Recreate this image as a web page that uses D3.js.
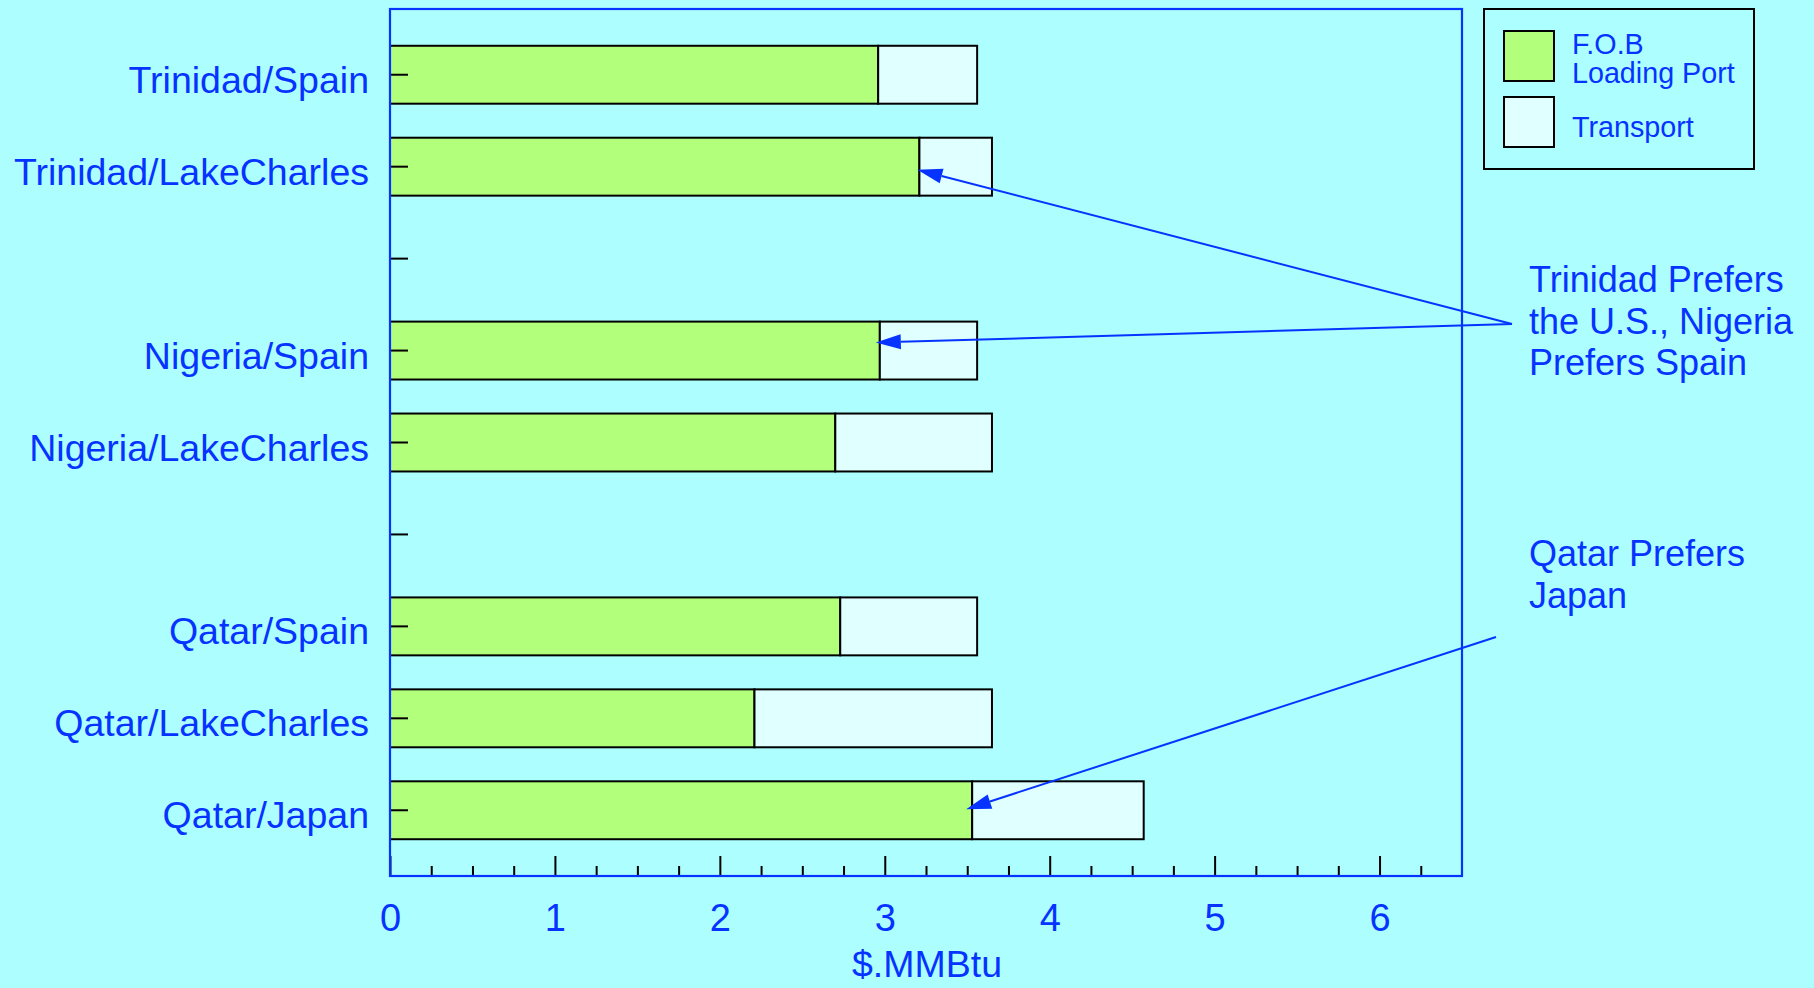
<!DOCTYPE html>
<html>
<head>
<meta charset="utf-8">
<script src="https://cdn.jsdelivr.net/npm/d3@7"></script>
<style>
  html, body { margin: 0; padding: 0; background: #adfefe; }
  svg { display: block; }
  text { font-family: "Liberation Sans", Arial, Helvetica, sans-serif; }
</style>
</head>
<body>
<svg id="chart" width="1814" height="988"></svg>
<script>
// Row slots, top to bottom; empty strings are spacer rows between producer groups
const slots = ["Trinidad/Spain", "Trinidad/LakeCharles", "", "Nigeria/Spain", "Nigeria/LakeCharles", "", "Qatar/Spain", "Qatar/LakeCharles", "Qatar/Japan"];

// Routes and their cost components ($/MMBtu)
const routes = ["Trinidad/Spain", "Trinidad/LakeCharles", "Nigeria/Spain", "Nigeria/LakeCharles", "Qatar/Spain", "Qatar/LakeCharles", "Qatar/Japan"];
const fob = [2.96, 3.21, 2.97, 2.70, 2.73, 2.21, 3.53];
const transport = [0.60, 0.44, 0.59, 0.95, 0.83, 1.44, 1.04];

const seriesNames = ["F.O.B\nLoading Port", "Transport"];
const xTicks = [0, 1, 2, 3, 4, 5, 6];
const xMinorTicks = d3.range(0, 6.5, 0.25).filter(v => v % 1 !== 0);
const xTitle = "$.MMBtu";

// Callouts: text lines and the routes their arrows point at
const callouts = [
  { lines: ["Trinidad Prefers", "the U.S., Nigeria", "Prefers Spain"], targets: ["Trinidad/LakeCharles", "Nigeria/Spain"] },
  { lines: ["Qatar Prefers", "Japan"], targets: ["Qatar/Japan"] }
];

const BLUE = "#0633ff";
const BG = "#adfefe";
const GREEN = "#b2ff7b";
const PALE = "#e0ffff";

const svg = d3.select("#chart");
svg.append("rect").attr("width", 1814).attr("height", 988).attr("fill", BG);

const plot = { left: 390, right: 1462, top: 9, bottom: 876 };

const x = d3.scaleLinear().domain([0, 6.5]).range([plot.left, plot.right]);
const y = d3.scaleBand().domain(d3.range(slots.length))
  .range([plot.top, plot.bottom]).paddingInner(0.37).paddingOuter(0.4);

const rows = routes.map((r, i) => ({ route: r, slot: slots.indexOf(r), fob: fob[i], transport: transport[i] }));

// Stacked bars
const g = svg.append("g");
g.selectAll("rect.fob").data(rows).join("rect")
  .attr("class", "fob")
  .attr("x", x(0)).attr("y", d => y(d.slot))
  .attr("width", d => x(d.fob) - x(0)).attr("height", y.bandwidth())
  .attr("fill", GREEN).attr("stroke", "#000").attr("stroke-width", 2);
g.selectAll("rect.tr").data(rows).join("rect")
  .attr("class", "tr")
  .attr("x", d => x(d.fob)).attr("y", d => y(d.slot))
  .attr("width", d => x(d.fob + d.transport) - x(d.fob)).attr("height", y.bandwidth())
  .attr("fill", PALE).attr("stroke", "#000").attr("stroke-width", 2);

// Y axis: short inward ticks, labels to the left
const yAxis = d3.axisLeft(y).tickSize(-18).tickPadding(21).tickFormat(i => slots[i]);
const ya = svg.append("g").attr("transform", `translate(${plot.left},0)`).call(yAxis);
ya.select(".domain").remove();
ya.selectAll(".tick line").attr("stroke", "#000").attr("stroke-width", 2);
ya.selectAll(".tick text").attr("fill", BLUE).attr("font-size", 37.5)
  .attr("dy", null).attr("y", 18);

// X axis: minor quarter ticks and major unit ticks pointing up into the plot
const xMinor = d3.axisBottom(x).tickValues(xMinorTicks).tickSize(-10).tickFormat("");
const xm = svg.append("g").attr("transform", `translate(0,${plot.bottom})`).call(xMinor);
xm.select(".domain").remove();
xm.selectAll(".tick line").attr("stroke", "#000").attr("stroke-width", 2);

const xMajor = d3.axisBottom(x).tickValues(xTicks).tickSize(-20).tickFormat(d3.format("d"));
const xa = svg.append("g").attr("transform", `translate(0,${plot.bottom})`).call(xMajor);
xa.select(".domain").remove();
xa.selectAll(".tick line").attr("stroke", "#000").attr("stroke-width", 2);
xa.selectAll(".tick text").attr("fill", BLUE).attr("font-size", 38)
  .attr("dy", null).attr("y", 55);

svg.append("text").attr("x", (x(0) + x(6.5)) / 2 + 1).attr("y", 977)
  .attr("text-anchor", "middle").attr("font-size", 37.5).attr("fill", BLUE)
  .text(xTitle);

// Plot frame
svg.append("rect")
  .attr("x", plot.left).attr("y", plot.top)
  .attr("width", plot.right - plot.left).attr("height", plot.bottom - plot.top)
  .attr("fill", "none").attr("stroke", BLUE).attr("stroke-width", 2.2);

// Legend
const lg = svg.append("g").attr("transform", "translate(1484,9)");
lg.append("rect").attr("width", 270).attr("height", 160)
  .attr("fill", "none").attr("stroke", "#000").attr("stroke-width", 2);
[GREEN, PALE].forEach((c, i) => {
  lg.append("rect").attr("x", 20).attr("y", i === 0 ? 22 : 88)
    .attr("width", 50).attr("height", 50)
    .attr("fill", c).attr("stroke", "#000").attr("stroke-width", 2);
});
const lt = lg.append("text").attr("fill", BLUE).attr("font-size", 28.7);
seriesNames[0].split("\n").forEach((s, i) => {
  lt.append("tspan").attr("x", 88).attr("y", 45 + i * 29).text(s);
});
lg.append("text").attr("fill", BLUE).attr("font-size", 28.7)
  .attr("x", 88).attr("y", 128).text(seriesNames[1]);

// Callout texts and arrows
const calloutLayout = [
  { textX: 1529, textY: 292, lineGap: 41.7, origin: [1512, 324] },
  { textX: 1529, textY: 566, lineGap: 42, origin: [1496, 637] }
];
// Where each arrow lands relative to the end of its F.O.B segment
const tipOffsets = {
  "Trinidad/LakeCharles": [-2, 3],
  "Nigeria/Spain": [-4, -8],
  "Qatar/Japan": [-6, -1]
};

const arrows = svg.append("g");
callouts.forEach((c, k) => {
  const L = calloutLayout[k];
  const t = svg.append("text").attr("fill", BLUE).attr("font-size", 36);
  c.lines.forEach((s, i) => t.append("tspan").attr("x", L.textX).attr("y", L.textY + i * L.lineGap).text(s));

  c.targets.forEach(route => {
    const r = rows.find(d => d.route === route);
    const off = tipOffsets[route];
    const tip = [x(r.fob) + off[0], y(r.slot) + y.bandwidth() / 2 + off[1]];
    const [ox, oy] = L.origin;
    const dx = tip[0] - ox, dy = tip[1] - oy;
    const len = Math.hypot(dx, dy);
    const ux = dx / len, uy = dy / len;
    const headL = 25, headW = 7.5;
    const bx = tip[0] - ux * headL, by = tip[1] - uy * headL;
    arrows.append("line")
      .attr("x1", ox).attr("y1", oy).attr("x2", bx).attr("y2", by)
      .attr("stroke", BLUE).attr("stroke-width", 2);
    arrows.append("path")
      .attr("d", `M${tip[0]},${tip[1]}L${bx - uy * headW},${by + ux * headW}L${bx + uy * headW},${by - ux * headW}Z`)
      .attr("fill", BLUE);
  });
});
</script>
</body>
</html>
